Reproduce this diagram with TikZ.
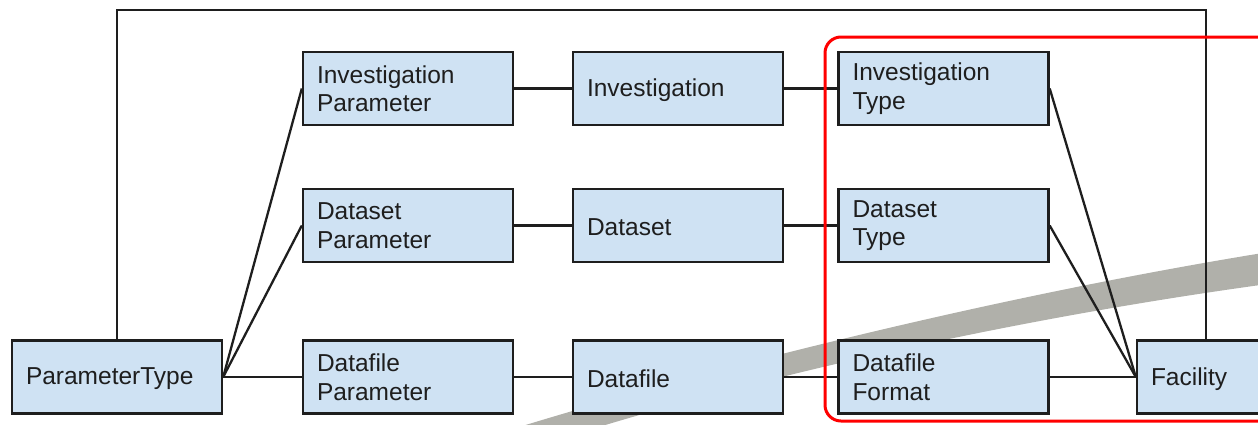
\documentclass[tikz,border=0pt]{standalone}
\usepackage{fontspec}
\setmainfont{Liberation Sans}
\definecolor{boxfill}{RGB}{207,226,243}
\definecolor{boxline}{RGB}{30,30,30}
\definecolor{bandgrey}{RGB}{176,176,170}
\definecolor{framered}{RGB}{255,0,0}
% single-line labels sit a little lower in their boxes
\newcommand{\lowlabel}[1]{\raisebox{-1.8pt}[\height][\depth]{#1}}
\begin{document}
\begin{tikzpicture}[x=1pt,y=-1pt,
  entity/.style={draw=boxline, fill=boxfill, line width=2.4pt, rectangle,
    minimum height=73pt, text width=182pt, inner xsep=14pt, inner ysep=0pt,
    align=left, text=boxline, font=\fontsize{24.5}{28.5}\selectfont},
  link/.style={draw=boxline, line width=2.3pt},
  hilite/.style={draw=framered, line width=3pt, rounded corners=16pt}]
\useasboundingbox (0,0) rectangle (1258,424);
\clip (0,0) rectangle (1258,424);

% grey brush stroke behind the diagram, widening to the right
\fill[bandgrey] (490,436) .. controls (700,370) and (1000,295) .. (1275,251)
  -- (1275,283) .. controls (1000,320) and (720,385) .. (520,452) -- cycle;

% entities
\node[entity] (ptype) at (117,377) {\lowlabel{ParameterType}};
\node[entity] (iparam) at (408,88.5) {Investigation\\Parameter};
\node[entity] (dparam) at (408,225.5) {Dataset\\Parameter};
\node[entity] (fparam) at (408,377) {Datafile\\Parameter};
\node[entity] (inv) at (678,88.5) {\lowlabel{Investigation}};
\node[entity] (ds) at (678,225.5) {\lowlabel{Dataset}};
\node[entity] (df) at (678,377) {\lowlabel{Datafile}};
\node[entity] (itype) at (943.5,88.5) {Investigation\\Type};
\node[entity] (dtype) at (943.5,225.5) {Dataset\\Type};
\node[entity] (dformat) at (943.5,377) {Datafile\\Format};
\node[entity] (fac) at (1242,377) {\lowlabel{Facility}};

% relations
\draw[link] (ptype.east) -- (iparam.west);
\draw[link] (ptype.east) -- (dparam.west);
\draw[link] (ptype.east) -- (fparam.west);
\draw[link] (iparam) -- (inv);
\draw[link] (dparam) -- (ds);
\draw[link] (fparam) -- (df);
\draw[link] (inv) -- (itype);
\draw[link] (ds) -- (dtype);
\draw[link] (df) -- (dformat);
\draw[link] (itype.east) -- (fac.west);
\draw[link] (dtype.east) -- (fac.west);
\draw[link] (dformat.east) -- (fac.west);
\coordinate (topright) at (1206,10);
\draw[link] (ptype.north) |- (topright) -- (topright |- fac.north);

% highlighted group
\draw[hilite] (825,37) rectangle (1300,421);
\end{tikzpicture}
\end{document}
